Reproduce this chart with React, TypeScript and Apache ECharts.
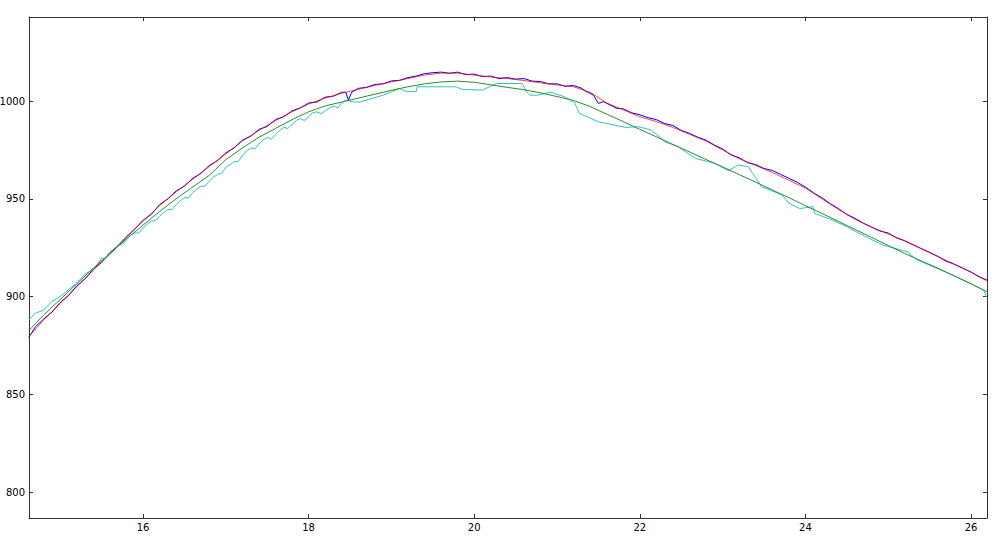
import React, { useEffect, useRef } from "react";
import * as echarts from "echarts";

const xMin = 14.623;
const xMax = 26.193;
const yMin = 786.7;
const yMax = 1043;

const blueLine: [number, number][] = [
  [14.62, 879], [14.7, 884.5], [14.8, 888.5], [14.9, 892], [15.0, 897], [15.1, 900.5], [15.2, 905.5], [15.3, 909],
  [15.4, 914], [15.5, 917.5], [15.6, 922.5], [15.7, 926], [15.8, 930.5], [15.9, 934.5], [16.0, 939], [16.1, 942],
  [16.2, 947], [16.3, 950], [16.4, 954], [16.5, 956.5], [16.6, 960.5], [16.7, 963], [16.8, 967], [16.9, 969.5],
  [17.0, 973.5], [17.1, 976], [17.2, 980], [17.3, 982], [17.4, 985.5], [17.5, 987], [17.6, 990.5], [17.7, 992],
  [17.8, 995], [17.9, 996.5], [18.0, 999], [18.1, 999.5], [18.2, 1002], [18.3, 1002.5], [18.4, 1004.5], [18.45, 1004.5],
  [18.48, 1000.5], [18.52, 1004.5], [18.6, 1006.5], [18.7, 1007], [18.8, 1008.5], [18.9, 1008.8], [19.0, 1010.3],
  [19.1, 1010.6], [19.2, 1012], [19.3, 1012.8], [19.4, 1014], [19.5, 1014.5], [19.6, 1014.8], [19.7, 1014.2],
  [19.8, 1014.8], [19.9, 1013.5], [20.0, 1013.8], [20.1, 1012.5], [20.2, 1012.8], [20.3, 1011.5], [20.4, 1012],
  [20.5, 1011.2], [20.6, 1011.5], [20.7, 1010.2], [20.8, 1010], [20.9, 1008.8], [21.0, 1008.8], [21.1, 1007.5],
  [21.2, 1008], [21.3, 1006.5], [21.35, 1005], [21.44, 1003], [21.5, 998.8], [21.56, 999.7], [21.64, 998],
  [21.72, 996.3], [21.8, 996], [21.9, 994], [22.0, 993], [22.1, 991.5], [22.2, 990.5], [22.3, 988.5], [22.4, 987.5],
  [22.5, 985], [22.6, 983.5], [22.7, 981.5], [22.8, 980], [22.9, 977.5], [23.0, 975.5], [23.1, 972.5], [23.2, 971],
  [23.3, 968.5], [23.4, 967.5], [23.5, 965.5], [23.6, 964.5], [23.7, 962.5], [23.8, 960.5], [23.9, 958.5],
  [24.0, 956], [24.1, 953], [24.2, 950.5], [24.3, 947.5], [24.4, 945], [24.5, 942], [24.6, 940], [24.7, 937.5],
  [24.8, 935.5], [24.9, 933.5], [25.0, 932.5], [25.1, 930], [25.2, 928.5], [25.3, 926.5], [25.4, 924.5],
  [25.5, 922.5], [25.6, 920.5], [25.7, 918], [25.8, 916.5], [25.9, 914.5], [26.0, 912.5], [26.1, 910], [26.19, 908.5],
];

const redLine: [number, number][] = [
  [14.62, 879.5], [14.8, 888], [15.0, 896.5], [15.2, 905], [15.4, 913.5], [15.6, 922], [15.8, 930.5], [16.0, 938.5],
  [16.2, 946.5], [16.4, 953.5], [16.6, 960], [16.8, 966.5], [17.0, 973], [17.2, 979.5], [17.4, 985], [17.6, 990],
  [17.8, 994.5], [18.0, 998.5], [18.2, 1001.5], [18.4, 1004], [18.6, 1006], [18.8, 1008], [19.0, 1009.8],
  [19.2, 1011.5], [19.4, 1013.3], [19.6, 1014.3], [19.8, 1014.3], [20.0, 1013.3], [20.2, 1012.3], [20.4, 1011.5],
  [20.6, 1010.5], [20.8, 1009.3], [21.0, 1008.3], [21.2, 1007.3], [21.4, 1004.5], [21.6, 999], [21.8, 995.5],
  [22.0, 992], [22.2, 989.5], [22.4, 986.5], [22.6, 983], [22.8, 979.5], [23.0, 975], [23.2, 970.5], [23.4, 967],
  [23.6, 963.5], [23.8, 959.5], [24.0, 955.5], [24.2, 950], [24.4, 944.5], [24.6, 939.5], [24.8, 935.5], [25.0, 932],
  [25.2, 928.5], [25.4, 924.5], [25.6, 920.5], [25.8, 916.5], [26.0, 912.5], [26.19, 908],
];

const cyanLine: [number, number][] = [
  [14.62, 888], [14.7, 891.5], [14.8, 893], [14.9, 897.5], [15.0, 900], [15.1, 903.5], [15.2, 907], [15.3, 911.5],
  [15.4, 914], [15.45, 916.5], [15.5, 919.5], [15.55, 919.5], [15.6, 921.5], [15.65, 923.5], [15.7, 926.5], [15.75, 926.5],
  [15.8, 929], [15.85, 931.5], [15.9, 932.5], [15.95, 932.5], [16.0, 935], [16.05, 937], [16.1, 938.5], [16.15, 939],
  [16.2, 941], [16.25, 943], [16.3, 944.5], [16.35, 944.5], [16.4, 947], [16.45, 949], [16.5, 950.5], [16.55, 950.5],
  [16.6, 953], [16.65, 955], [16.7, 956.5], [16.75, 956.5], [16.8, 959], [16.85, 961], [16.9, 962.5], [16.95, 963],
  [17.0, 966], [17.05, 967.5], [17.1, 969], [17.15, 969], [17.2, 972], [17.25, 974.5], [17.3, 976], [17.35, 975.5],
  [17.4, 978], [17.45, 980], [17.5, 981.5], [17.55, 980.5], [17.6, 983], [17.65, 985], [17.7, 986.5],
  [17.75, 986], [17.8, 988], [17.85, 990], [17.9, 991], [17.95, 990], [18.0, 992], [18.05, 994], [18.1, 994.5],
  [18.15, 993.5], [18.2, 995], [18.25, 996.5], [18.3, 997.5], [18.35, 996.5], [18.4, 999],
  [18.45, 1000.5], [18.55, 999.5], [18.62, 999.5], [18.9, 1003], [19.1, 1006.5], [19.18, 1004.8], [19.3, 1004.8],
  [19.31, 1007.3], [19.78, 1007.3], [19.85, 1006], [20.1, 1005.6], [20.27, 1009], [20.58, 1009], [20.63, 1005],
  [20.67, 1003], [20.76, 1003], [20.92, 1004.5], [21.09, 1002.2], [21.21, 999.2], [21.27, 993.7], [21.5, 989.4],
  [21.83, 986.5], [21.98, 986.9], [22.14, 985.2], [22.3, 979.2], [22.46, 976.7], [22.67, 970.7], [22.91, 968.1],
  [23.07, 964.4], [23.19, 967.3], [23.31, 966.4], [23.47, 956.2], [23.72, 951.9], [23.8, 947.8], [23.93, 945],
  [24.09, 946], [24.11, 942.5], [24.33, 939.1], [24.5, 935.7], [24.74, 930.3], [24.94, 926.3], [25.23, 922.9],
  [25.35, 918.7], [25.59, 914.4], [25.75, 911.5], [25.99, 906.8], [26.15, 903.3], [26.19, 899.5],
];

const greenLine: [number, number][] = [
  [14.62, 882.5], [14.8, 890.5], [15.0, 898.5], [15.2, 906.5], [15.4, 914.5], [15.6, 922], [15.8, 929.5],
  [16.0, 936.5], [16.2, 943.5], [16.4, 950], [16.6, 956], [16.8, 962], [17.0, 970], [17.2, 976], [17.4, 981.5],
  [17.6, 986], [17.8, 990.5], [18.0, 994.5], [18.2, 997.5], [18.4, 999.5], [18.6, 1001.5], [18.8, 1003.5],
  [19.0, 1005.5], [19.2, 1007.3], [19.4, 1008.8], [19.6, 1009.8], [19.8, 1010.2], [20.0, 1009.6], [20.2, 1008.3],
  [20.4, 1007], [20.6, 1005.8], [20.8, 1004.2], [21.0, 1002.3], [21.2, 1000.3], [21.4, 997.2], [21.6, 993.3],
  [21.8, 989.5], [22.0, 985.5], [22.2, 981.7], [22.4, 977.8], [22.6, 974], [22.8, 970.1], [23.0, 966.3],
  [23.2, 962.4], [23.4, 958.5], [23.6, 954.5], [23.8, 950.6], [24.0, 946.5], [24.2, 942.5], [24.4, 938.4],
  [24.6, 934.3], [24.8, 930.2], [25.0, 926.1], [25.2, 922], [25.4, 918.2], [25.6, 914.5], [25.8, 910.5],
  [26.0, 906.5], [26.19, 902.5],
];

export default function App() {
  const ref = useRef<HTMLDivElement>(null);
  useEffect(() => {
    if (!ref.current) return;
    const chart = echarts.init(ref.current, null, { renderer: "svg" });
    const axisLine = { show: true, lineStyle: { color: "#333", width: 1 } };
    const tick = { show: true, inside: true, length: 4, lineStyle: { color: "#333", width: 1 } };
    const label = {
      show: true,
      color: "#000",
      fontFamily: "DejaVu Sans",
      fontSize: 10,
      margin: 4,
      showMinLabel: false,
      showMaxLabel: false,
      formatter: (v: number) => String(Math.round(v)),
    };
    const line = (data: [number, number][], color: string, opacity = 1) => ({
      type: "line",
      data,
      showSymbol: false,
      symbol: "none",
      lineStyle: { color, width: 1, opacity },
      itemStyle: { color },
      xAxisIndex: 0,
      yAxisIndex: 0,
    });
    chart.setOption({
      animation: false,
      backgroundColor: "#fff",
      grid: { left: 29, right: 13, top: 17, bottom: 32, containLabel: false, outerBoundsMode: "none" },
      xAxis: [
        { type: "value", min: xMin, max: xMax, splitNumber: 6, position: "bottom", axisLine, axisTick: tick, axisLabel: label, splitLine: { show: false } },
        { type: "value", min: xMin, max: xMax, splitNumber: 6, position: "top", axisLine, axisTick: tick, axisLabel: { show: false }, splitLine: { show: false } },
      ],
      yAxis: [
        { type: "value", min: yMin, max: yMax, splitNumber: 5, position: "left", axisLine, axisTick: tick, axisLabel: label, splitLine: { show: false } },
        { type: "value", min: yMin, max: yMax, splitNumber: 5, position: "right", axisLine, axisTick: tick, axisLabel: { show: false }, splitLine: { show: false } },
      ],
      series: [
        line(blueLine, "#0000ff"),
        line(redLine, "#ff0000", 0.75),
        line(cyanLine, "#2ec4bd"),
        line(greenLine, "#2e8b2e"),
      ],
    });
    return () => chart.dispose();
  }, []);
  return (
    <div
      ref={ref}
      style={{ position: "fixed", left: 0, top: 0, width: 1000, height: 550, background: "#fff" }}
    />
  );
}
